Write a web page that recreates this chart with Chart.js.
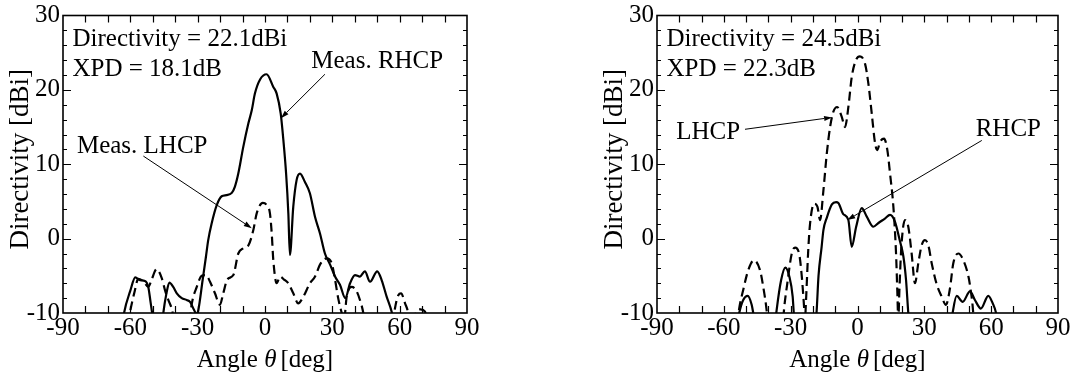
<!DOCTYPE html>
<html>
<head>
<meta charset="utf-8">
<script src="https://cdn.jsdelivr.net/npm/chart.js@4.4.1/dist/chart.umd.min.js"></script>
<style>
  html, body { margin: 0; padding: 0; background: #fff; }
  #wrap { position: relative; width: 1075px; height: 376px; overflow: hidden; }
  .box { position: absolute; top: 0; height: 376px; }
  #b1 { left: 0; width: 537px; }
  #b2 { left: 537px; width: 538px; }
</style>
</head>
<body>
<div id="wrap">
  <div class="box" id="b1"><canvas id="c1" width="537" height="376"></canvas></div>
  <div class="box" id="b2"><canvas id="c2" width="538" height="376"></canvas></div>
</div>
<script>
// ---------- data ----------
// Left panel: measured RHCP (solid)
const leftRhcpAngle = [-63.5,-62.8,-60,-57.8,-55.7,-53.5,-52,-51,-50.3,-49.5,-47.5,-45.8,-45.3,-44,-42.6,-40.9,-39.3,-37.1,-34.9,-33.4,-31.6,-30.4,-29.7,-27.8,-26.3,-25.3,-23.8,-21.5,-19.3,-17.1,-14.8,-13.4,-11.9,-9.7,-7.4,-5.9,-4.5,-2.2,0.7,3.7,5.2,7.0,8.2,9.4,10.4,11.1,12.6,14.1,15.6,17.8,20,22.3,24.5,26.7,29,31.2,33.4,35.8,37.9,40.1,42.3,44.5,46.8,50,52,54.2,56.4,57.5];
const leftRhcpDir   = [-11.5,-10,-7,-5.2,-5.6,-5.7,-6.5,-8.5,-10,-12,-14,-11.5,-10,-7.5,-5.9,-6.5,-7.35,-8.0,-8.25,-8.5,-9.6,-10.2,-9.6,-5.6,-2.4,-0.2,2.0,4.5,5.7,5.85,6.15,7.0,8.75,12.3,15.5,17.25,19.5,21.4,22.1,20.4,19.5,16.8,13.2,8.75,3.4,-2.2,4.3,7.9,8.75,7.6,6.1,2.9,0.7,-2.0,-3.5,-5.1,-6.2,-8.0,-6.0,-4.9,-5.1,-4.4,-5.8,-4.4,-5.6,-7.8,-9.8,-11.5];
// Left panel: measured LHCP (dashed)
const leftLhcpAngle = [-61,-60.2,-58,-56.5,-54,-52,-50.5,-48.3,-46,-44.5,-43,-41.5,-40.5,-37,-33.5,-32.7,-30.4,-28.2,-26.3,-24.5,-22.3,-20.1,-18.6,-16.8,-14.1,-11.9,-9.7,-7.4,-5.2,-3.7,-1,0.75,2.2,3,3.7,5.2,6.7,8.5,10.4,12.6,14.8,17.1,20,22.3,24.5,27.5,29.7,31.2,32.6,34.2,35.2,36.4,38.6,40.5,42.3,43.8,44.5,50,57,57.9,59.4,60.6,62.4,63.8,64.5,66.5,67.3,69.3,71.3,72];
const leftLhcpDir   = [-11.5,-10,-7,-5.4,-5.8,-6.5,-5.5,-4.1,-5.3,-7,-8.3,-9.5,-11,-14,-11,-8.9,-6.5,-5.0,-4.9,-5.8,-7.35,-8.9,-7.35,-5.5,-4.9,-2.0,-1.3,-0.9,1.15,3.4,4.8,4.5,3.4,0.7,-2.9,-6.0,-5.1,-5.5,-6.0,-7.35,-8.7,-7.8,-6.0,-5.1,-3.5,-2.65,-3.3,-5.5,-8.0,-10,-11,-7.8,-6.5,-6.9,-8.25,-10,-11.5,-14,-11.5,-9.4,-7.6,-7.35,-8.7,-10,-11.5,-11,-9.95,-9.5,-9.8,-11];
// Right panel: RHCP (solid)
const rightRhcpAngle = [-54,-53.1,-51.3,-49.3,-47.5,-46.8,-46,-41,-37,-36.3,-34.3,-32.4,-30.6,-29.1,-28.6,-28,-23,-19,-18.4,-17.5,-16.1,-15.3,-13.8,-11.5,-9.6,-8.6,-6.4,-4.1,-2.6,-0.6,1.9,4.1,7.1,9.4,12.3,14.6,16.8,19.1,20.6,21.8,22.8,23.3,33,42,42.7,44.5,47.2,50.5,52.7,55.4,58.7,60.7,62.2,63];
const rightRhcpDir   = [-11.5,-10,-8.25,-7.7,-8.9,-10,-11.5,-14,-11.5,-9.6,-5.6,-3.9,-5.1,-7.8,-10,-11.5,-14,-11.5,-10,-5,-1.1,1.15,2.8,4.6,4.9,4.8,3.3,2.5,-1.1,1.6,4.1,3.0,1.6,2.1,2.7,3.2,2.3,-0.4,-2.4,-5.6,-10,-11.5,-14,-11.5,-10,-7.7,-8.5,-7.1,-8.25,-9.4,-7.7,-8.7,-10,-11.5];
// Right panel: LHCP (dashed)
const rightLhcpAngle = [-54,-53.1,-51.3,-49,-46.5,-43.8,-42.3,-40.8,-40.2,-37,-33.5,-33,-31.5,-29.5,-28,-26.1,-25,-24,-23.6,-23.1,-22.1,-21.3,-19.5,-18,-16.8,-15.3,-13.8,-12.3,-10.9,-9.1,-7.1,-5.6,-4.1,-2.6,-0.7,1.1,3.4,4.9,6.4,7.9,8.9,10.1,11.9,13.4,14.6,16.1,17.3,17.9,18.3,18.8,19.6,21.3,22.8,24.3,25.8,27.3,28.8,30.3,31.8,33.3,35.6,37.8,39.7,41.5,43,45.3,47.5,49.8,50.8,51.7,52.3];
const rightLhcpDir   = [-11.5,-9.4,-6.9,-4.2,-2.9,-4.2,-6.5,-9.6,-11.5,-14,-11.5,-9.6,-6.0,-2.0,-1.2,-2.2,-5.1,-9.1,-11,-8.25,-1.5,2.0,4.7,4.3,2.5,6.5,11.4,15.0,17.0,17.7,16.4,15.0,17.7,21.7,24.0,24.5,23.5,20.8,16.8,12.8,11.9,13.0,13.45,11.9,8.75,4.3,-2.0,-7.35,-11,-7,-1.5,2.5,1.6,-2.0,-6.0,-3.3,-0.9,-0.2,-0.9,-3.3,-6.2,-7.8,-8.9,-6.7,-3.3,-2.0,-2.9,-5.1,-6.9,-9.1,-11.5];

// axis
const xMin = -90, xMax = 90, xLabelStep = 30, xMinorStep = 10;
const yMin = -10, yMax = 30, yLabelStep = 10, yMinorStep = 2;
const xTitleMain = 'Angle ', xTitleSym = '\u03B8', xTitleUnit = '[deg]';
const yTitle = 'Directivity [dBi]';

// annotation texts
const leftInfo = ['Directivity = 22.1dBi', 'XPD = 18.1dB'];
const rightInfo = ['Directivity = 24.5dBi', 'XPD = 22.3dB'];
// labels: [text, x, y(baseline)] in data units; arrows: [x0,y0,x1,y1]
const leftLabels = [['Meas. RHCP', 50.0, 22.9], ['Meas. LHCP', -54.7, 11.45]];
const leftArrows = [[26.7, 22.1, 7.1, 16.2], [-54.2, 11.1, -5.9, 1.4]];
const rightLabels = [['LHCP', -67.0, 13.45], ['RHCP', 67.7, 13.76]];
const rightArrows = [[-50.5, 14.7, -11.4, 16.3], [55.8, 13.2, -4.6, 2.5]];

const FONT = '"Liberation Serif", "Times New Roman", serif';
const FS = 25;

function pts(a, v) { return a.map((x, i) => ({ x: x, y: v[i] })); }

const decor = {
  id: 'decor',
  afterDatasetsDraw(chart, args, o) {
    const ctx = chart.ctx;
    const { left, right, top, bottom } = chart.chartArea;
    const xs = chart.scales.x, ys = chart.scales.y;
    ctx.save();
    ctx.strokeStyle = '#000';
    ctx.fillStyle = '#000';
    // box
    ctx.lineWidth = 1.6;
    ctx.strokeRect(left, top, right - left, bottom - top);
    // ticks (inward)
    ctx.lineWidth = 1.2;
    ctx.beginPath();
    for (let v = xMin + xMinorStep; v < xMax; v += xMinorStep) {
      const px = Math.round(xs.getPixelForValue(v)) + 0.5;
      ctx.moveTo(px, bottom); ctx.lineTo(px, bottom - 7);
      ctx.moveTo(px, top); ctx.lineTo(px, top + 7);
    }
    for (let v = yMin + yMinorStep; v < yMax; v += yMinorStep) {
      const py = Math.round(ys.getPixelForValue(v)) + 0.5;
      const len = (Math.abs(v) % yLabelStep === 0) ? 8 : 4;
      ctx.moveTo(left, py); ctx.lineTo(left + len, py);
      ctx.moveTo(right, py); ctx.lineTo(right - len, py);
    }
    ctx.stroke();
    // y title
    ctx.font = '27px ' + FONT;
    ctx.textAlign = 'center';
    ctx.textBaseline = 'middle';
    ctx.save();
    ctx.translate(left - 42, (top + bottom) / 2 - 5);
    ctx.rotate(-Math.PI / 2);
    ctx.fillText(yTitle, 0, 0);
    ctx.restore();
    // x title with italic theta
    ctx.textBaseline = 'alphabetic';
    ctx.textAlign = 'left';
    const fN = FS + 'px ' + FONT, fI = 'italic ' + FS + 'px ' + FONT;
    ctx.font = fN; const w1 = ctx.measureText(xTitleMain).width;
    ctx.font = fI; const w2 = ctx.measureText(xTitleSym).width;
    ctx.font = fN; const w3 = ctx.measureText(xTitleUnit).width;
    const gap = 4;
    let sx = (left + right) / 2 - (w1 + w2 + gap + w3) / 2;
    const by = 367;
    ctx.font = fN; ctx.fillText(xTitleMain, sx, by); sx += w1;
    ctx.font = fI; ctx.fillText(xTitleSym, sx, by); sx += w2 + gap;
    ctx.font = fN; ctx.fillText(xTitleUnit, sx, by);
    // info text
    ctx.font = fN;
    ctx.fillText(o.info[0], left + 9.5, top + 30);
    ctx.fillText(o.info[1], left + 9.5, top + 60);
    // labels
    ctx.textAlign = 'center';
    o.labels.forEach(l => {
      ctx.fillText(l[0], xs.getPixelForValue(l[1]), ys.getPixelForValue(l[2]));
    });
    // arrows
    ctx.lineWidth = 1;
    o.arrows.forEach(a => {
      const x0 = xs.getPixelForValue(a[0]), y0 = ys.getPixelForValue(a[1]);
      const x1 = xs.getPixelForValue(a[2]), y1 = ys.getPixelForValue(a[3]);
      const ang = Math.atan2(y1 - y0, x1 - x0);
      const hl = 8, hw = 2.6;
      const bx = x1 - hl * Math.cos(ang), byy = y1 - hl * Math.sin(ang);
      ctx.beginPath(); ctx.moveTo(x0, y0); ctx.lineTo(bx, byy); ctx.stroke();
      ctx.beginPath();
      ctx.moveTo(x1, y1);
      ctx.lineTo(bx + hw * Math.sin(ang), byy - hw * Math.cos(ang));
      ctx.lineTo(bx - hw * Math.sin(ang), byy + hw * Math.cos(ang));
      ctx.closePath(); ctx.fill();
    });
    ctx.restore();
  }
};

function makeChart(id, solidA, solidV, dashA, dashV, padding, info, labels, arrows) {
  return new Chart(document.getElementById(id), {
    type: 'scatter',
    data: {
      datasets: [
        { data: pts(solidA, solidV), showLine: true, borderColor: '#000', borderWidth: 2.2,
          pointRadius: 0, cubicInterpolationMode: 'monotone', clip: 0 },
        { data: pts(dashA, dashV), showLine: true, borderColor: '#000', borderWidth: 2.2,
          borderDash: [9, 5], pointRadius: 0, cubicInterpolationMode: 'monotone', clip: 0 }
      ]
    },
    options: {
      responsive: false,
      animation: false,
      events: [],
      layout: { padding: padding },
      plugins: { legend: { display: false }, tooltip: { enabled: false },
        decor: { info: info, labels: labels, arrows: arrows } },
      scales: {
        x: {
          type: 'linear', min: xMin, max: xMax,
          grid: { display: false, drawTicks: false }, border: { display: false },
          ticks: { stepSize: xLabelStep, autoSkip: false, maxRotation: 0, padding: 3,
            color: '#000', font: { family: FONT, size: FS, lineHeight: 1.0 } },
          afterFit(s) { s.height = 63; }
        },
        y: {
          type: 'linear', min: yMin, max: yMax,
          grid: { display: false, drawTicks: false }, border: { display: false },
          ticks: { stepSize: yLabelStep, autoSkip: false, padding: 3,
            color: '#000', font: { family: FONT, size: FS, lineHeight: 1.0 } },
          afterFit(s) { s.width = 63; }
        }
      }
    },
    plugins: [decor]
  });
}

function build() {
  makeChart('c1', leftRhcpAngle, leftRhcpDir, leftLhcpAngle, leftLhcpDir,
    { top: 15, right: 70, left: 0, bottom: 0 }, leftInfo, leftLabels, leftArrows);
  makeChart('c2', rightRhcpAngle, rightRhcpDir, rightLhcpAngle, rightLhcpDir,
    { top: 15, right: 17, left: 57, bottom: 0 }, rightInfo, rightLabels, rightArrows);
}
Promise.all([
  document.fonts.load('25px "Liberation Serif"'),
  document.fonts.load('italic 25px "Liberation Serif"')
]).then(build, build);
</script>
</body>
</html>
